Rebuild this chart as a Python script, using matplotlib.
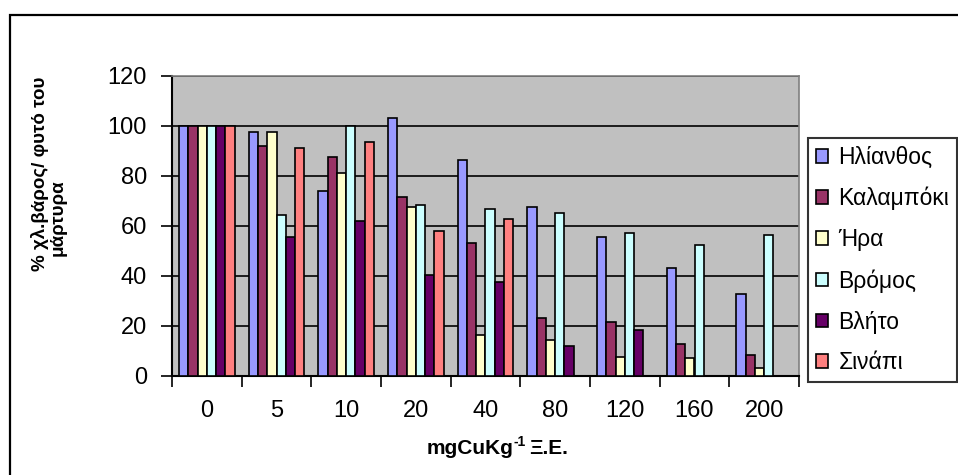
import numpy as np
import matplotlib
matplotlib.use("Agg")
import matplotlib.pyplot as plt
from matplotlib.patches import Rectangle, Patch

plt.rcParams["font.family"] = ["Liberation Sans", "DejaVu Sans"]

# Copper dose groups (mg Cu per kg)
doses = ["0", "5", "10", "20", "40", "80", "120", "160", "200"]

# Dry weight as % of control plant, per species
helianthos = [100, 97.7, 74.1, 103.2, 86.4, 67.7, 55.5, 43.4, 33.0]
kalampoki = [100, 91.9, 87.8, 71.6, 53.1, 23.1, 21.6, 12.7, 8.6]
hra = [100, 97.7, 81.2, 67.7, 16.6, 14.3, 7.7, 7.2, 3.1]
bromos = [100, 64.5, 100, 68.4, 66.9, 65.1, 57.2, 52.4, 56.5]
vlito = [100, 55.5, 62.0, 40.3, 37.8, 11.9, 18.4, 0, 0]
sinapi = [100, 91.1, 93.6, 58.0, 62.8, 0, 0, 0, 0]

series_names = ["Ηλίανθος", "Καλαμπόκι", "Ήρα", "Βρόμος", "Βλήτο", "Σινάπι"]
series_values = [helianthos, kalampoki, hra, bromos, vlito, sinapi]
series_colors = ["#9999FF", "#993366", "#FFFFCC", "#CCFFFF", "#660066", "#FF8080"]

W, H = 958, 475
fig = plt.figure(figsize=(W / 100, H / 100), dpi=100)
fig.patch.set_facecolor("white")

# outer chart border
fig.add_artist(Rectangle((10 / W, -0.05), 1.2, 1 - 15 / H + 0.05,
                         transform=fig.transFigure, fill=False,
                         edgecolor="black", linewidth=1.6))

ax = fig.add_axes([172 / W, 1 - 376 / H, (799 - 172) / W, (376 - 76) / H])
ax.set_facecolor("#C0C0C0")

n = len(doses)
x = np.arange(n)
bw = 0.1335
for i, (vals, col) in enumerate(zip(series_values, series_colors)):
    ax.bar(x + (i - 2.5) * bw, vals, width=bw, color=col,
           edgecolor="black", linewidth=1.2, zorder=3)

ax.set_xlim(-0.5, n - 0.5)
ax.set_ylim(0, 120)
ax.set_yticks(np.arange(0, 121, 20))
ax.yaxis.grid(True, color="black", linewidth=1.2, zorder=1)
ax.set_axisbelow(True)

# x ticks at group boundaries, labels at group centres
ax.set_xticks(np.arange(-0.5, n, 1.0))
ax.set_xticklabels([])
ax.set_xticks(x, minor=True)
ax.set_xticklabels(doses, minor=True)
ax.tick_params(axis="x", which="major", direction="out", length=8, width=1.2)
ax.tick_params(axis="x", which="minor", length=0, pad=17, labelsize=17)
ax.tick_params(axis="y", direction="out", length=8, width=1.2, pad=10, labelsize=17)

for side in ["top", "right"]:
    ax.spines[side].set_color("#808080")
    ax.spines[side].set_linewidth(1.2)
for side in ["left", "bottom"]:
    ax.spines[side].set_color("black")
    ax.spines[side].set_linewidth(1.5)

# y axis title (two lines)
fig.text(40 / W, 1 - 174 / H, "% χλ.βάρος/ φυτό του", rotation=90,
         ha="center", va="center", fontsize=13.5, fontweight="bold")
fig.text(58 / W, 1 - 218 / H, "μάρτυρα", rotation=90,
         ha="center", va="center", fontsize=13.5, fontweight="bold")

# x axis title with superscript exponent
ylab = 1 - 449 / H
fig.text(513 / W, ylab, "mgCuKg", ha="right", va="center",
         fontsize=15, fontweight="bold")
fig.text(513 / W, ylab + 7 / H, "-1", ha="left", va="center",
         fontsize=10, fontweight="bold")
fig.text(529 / W, ylab, "Ξ.Ε.", ha="left", va="center",
         fontsize=15, fontweight="bold")

handles = [Patch(facecolor=c, edgecolor="black", linewidth=1.2) for c in series_colors]
leg = fig.legend(handles, series_names, loc="upper left",
                 bbox_to_anchor=(807.5 / W, 1 - 138 / H),
                 fontsize=16.5, frameon=True, fancybox=False,
                 edgecolor="black", borderpad=0.35, labelspacing=0.78,
                 handlelength=0.55, handleheight=0.55, handletextpad=0.45,
                 borderaxespad=0)
leg.get_frame().set_linewidth(1.5)

fig.savefig("out.png", dpi=100)
